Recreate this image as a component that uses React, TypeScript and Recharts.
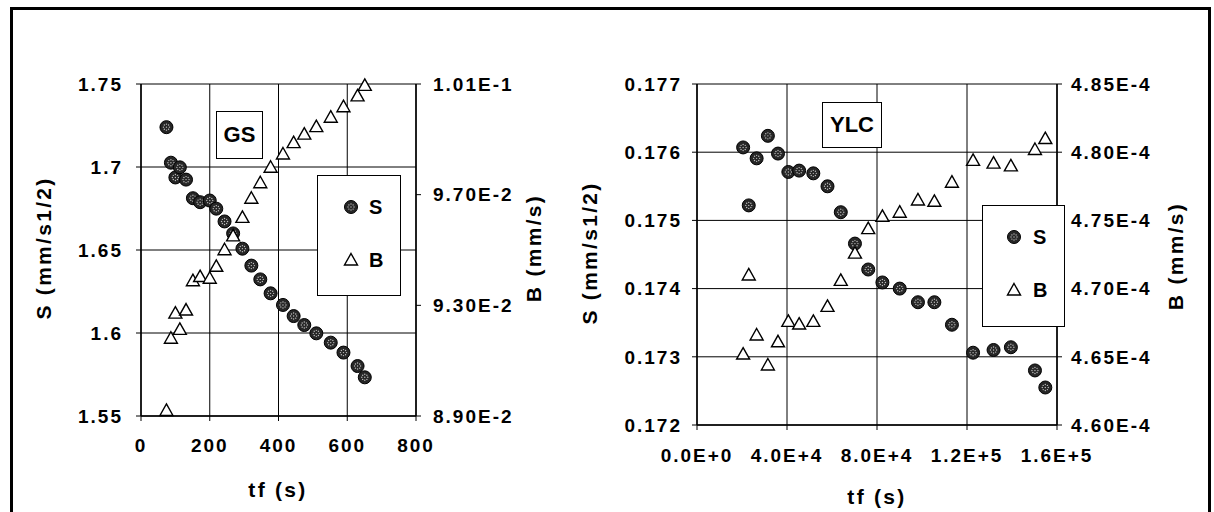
import React from 'react';
import { ScatterChart, Scatter, XAxis, YAxis, CartesianGrid, Legend } from 'recharts';

// ---------- GS panel data ----------
const gsTime = [74, 87, 100, 113, 131, 151, 172, 200, 219, 243, 268, 295, 321, 347, 377, 413, 444, 475, 510, 552, 589, 630, 651];
const gsS = [1.724, 1.7026, 1.6937, 1.6998, 1.6924, 1.6812, 1.6788, 1.6798, 1.6749, 1.6672, 1.66, 1.6508, 1.6406, 1.6323, 1.6239, 1.6169, 1.6102, 1.6048, 1.5998, 1.5942, 1.5882, 1.5801, 1.5733];
const gsB = [0.0892, 0.09181, 0.09272, 0.09213, 0.09283, 0.09389, 0.09404, 0.09398, 0.09441, 0.09501, 0.09551, 0.09618, 0.09687, 0.09743, 0.09799, 0.09847, 0.09888, 0.09919, 0.09946, 0.0998, 0.10018, 0.10057, 0.10095];
const gsXTicks = [0, 200, 400, 600, 800];
const gsSTicks = [1.55, 1.6, 1.65, 1.7, 1.75];
const gsBTicks = [0.089, 0.093, 0.097, 0.101];

// ---------- YLC panel data ----------
const ylcTime = [20500, 23000, 26500, 31500, 36000, 40600, 45400, 51700, 58000, 63900, 70200, 76100, 82400, 90100, 98200, 105500, 113300, 122700, 131800, 139500, 150200, 154800];
const ylcS = [0.17607, 0.17522, 0.17591, 0.17624, 0.17598, 0.17571, 0.17573, 0.17569, 0.1755, 0.17512, 0.17466, 0.17428, 0.17409, 0.174, 0.1738, 0.1738, 0.17347, 0.17306, 0.1731, 0.17314, 0.1728, 0.17255];
const ylcB = [4.652e-4, 4.71e-4, 4.666e-4, 4.644e-4, 4.661e-4, 4.676e-4, 4.674e-4, 4.676e-4, 4.687e-4, 4.706e-4, 4.726e-4, 4.744e-4, 4.753e-4, 4.756e-4, 4.765e-4, 4.764e-4, 4.778e-4, 4.794e-4, 4.792e-4, 4.79e-4, 4.802e-4, 4.81e-4];
const ylcXTicks = [0, 40000, 80000, 120000, 160000];
const ylcSTicks = [0.172, 0.173, 0.174, 0.175, 0.176, 0.177];
const ylcBTicks = [0.00046, 0.000465, 0.00047, 0.000475, 0.00048, 0.000485];

const seriesNames = ['S', 'B'];
const panelNames = ['GS', 'YLC'];
const xTitle = 'tf (s)';
const sTitle = 'S (mm/s1/2)';
const bTitle = 'B (mm/s)';

const gsSData = gsTime.map((x, i) => ({ x, y: gsS[i] }));
const gsBData = gsTime.map((x, i) => ({ x, y: gsB[i] }));
const ylcSData = ylcTime.map((x, i) => ({ x, y: ylcS[i] }));
const ylcBData = ylcTime.map((x, i) => ({ x, y: ylcB[i] }));

const FONT = '"Liberation Sans", Arial, Helvetica, sans-serif';
const tickStyle = { fill: '#000', fontSize: 19, fontWeight: 700, fontFamily: FONT, letterSpacing: 2 };

const expFmt = (d: number) => (v: number) => v.toExponential(d).replace('e', 'E');

function CircleMark(props: any) {
  const { cx, cy } = props;
  if (cx == null || cy == null) return null;
  const dots = [[0, 0], [-3, 0], [3, 0], [0, -3], [0, 3], [-2.1, -2.1], [2.1, 2.1], [2.1, -2.1], [-2.1, 2.1]];
  return (
    <g>
      <circle cx={cx} cy={cy} r={6.5} fill="#262626" stroke="#000" strokeWidth={1} />
      {dots.map(([dx, dy], i) => (
        <circle key={i} cx={cx + dx} cy={cy + dy} r={0.7} fill="#bdbdbd" />
      ))}
    </g>
  );
}

function TriangleMark(props: any) {
  const { cx, cy } = props;
  if (cx == null || cy == null) return null;
  return (
    <polygon
      points={`${cx},${cy - 6.5} ${cx + 6.5},${cy + 5} ${cx - 6.5},${cy + 5}`}
      fill="#fff"
      stroke="#000"
      strokeWidth={1.4}
      strokeLinejoin="miter"
    />
  );
}

const makeLegend = (w: number, h: number, mx: number, tx: number) => (props: any) => {
  const payload = [...(props.payload || [])].sort(
    (a: any, b: any) => seriesNames.indexOf(a.value) - seriesNames.indexOf(b.value)
  );
  return (
    <div style={{ width: w, height: h, border: '1.5px solid #000', background: '#fff', boxSizing: 'border-box' }}>
      <svg width={w - 3} height={h - 3} style={{ display: 'block' }}>
        {payload.map((entry: any, i: number) => {
          const cy = 31 + i * 53;
          return (
            <g key={entry.value}>
              {entry.value === 'S' ? <CircleMark cx={mx} cy={cy} /> : <TriangleMark cx={mx} cy={cy} />}
              <text x={tx} y={cy + 7} fontFamily={FONT} fontWeight={700} fontSize={20} fill="#000">
                {entry.value}
              </text>
            </g>
          );
        })}
      </svg>
    </div>
  );
};

const titleStyle: React.CSSProperties = {
  position: 'absolute',
  fontFamily: FONT,
  fontWeight: 700,
  fontSize: 21,
  letterSpacing: 2.3,
  whiteSpace: 'nowrap',
  color: '#000',
  lineHeight: '24px',
};

function Title({ text, cx, cy, rotate }: { text: string; cx: number; cy: number; rotate?: boolean }) {
  return (
    <div
      style={{
        ...titleStyle,
        left: cx,
        top: cy,
        transform: `translate(-50%, -50%)${rotate ? ' rotate(-90deg)' : ''}`,
      }}
    >
      {text}
    </div>
  );
}

function TagBox({ text, left, top, width, height }: { text: string; left: number; top: number; width: number; height: number }) {
  return (
    <div
      style={{
        position: 'absolute',
        left,
        top,
        width,
        height,
        border: '1.5px solid #000',
        boxSizing: 'border-box',
        background: '#fff',
        display: 'flex',
        alignItems: 'center',
        justifyContent: 'center',
        fontFamily: FONT,
        fontWeight: 700,
        fontSize: 22,
        color: '#000',
      }}
    >
      {text}
    </div>
  );
}

export default function App() {
  return (
    <div style={{ position: 'absolute', left: 0, top: 0, width: 1214, height: 512, overflow: 'hidden', background: '#fff' }}>
      <div
        style={{
          position: 'absolute',
          left: 10,
          top: 7,
          width: 1201,
          height: 520,
          borderTop: '3px solid #000',
          borderLeft: '3px solid #000',
          borderRight: '3px solid #000',
          boxSizing: 'border-box',
        }}
      />

      {/* GS panel */}
      <div style={{ position: 'absolute', left: 0, top: 0, width: 600, height: 512 }}>
        <ScatterChart width={600} height={512} margin={{ top: 84, right: 84, bottom: 36, left: 41 }}>
          <CartesianGrid yAxisId="s" stroke="#000" strokeWidth={1} />
          <XAxis
            dataKey="x"
            type="number"
            domain={[0, 800]}
            ticks={gsXTicks}
            interval={0}
            height={60}
            tick={tickStyle}
            tickSize={5}
            tickMargin={18}
            axisLine={{ stroke: '#000', strokeWidth: 1.5 }}
            tickLine={{ stroke: '#000' }}
          />
          <YAxis
            yAxisId="s"
            dataKey="y"
            type="number"
            domain={[1.55, 1.75]}
            ticks={gsSTicks}
            interval={0}
            width={100}
            tick={tickStyle}
            tickSize={5}
            tickMargin={13}
            tickFormatter={(v: number) => String(v)}
            axisLine={{ stroke: '#000', strokeWidth: 1.5 }}
            tickLine={{ stroke: '#000' }}
          />
          <YAxis
            yAxisId="b"
            orientation="right"
            dataKey="y"
            type="number"
            domain={[0.089, 0.101]}
            ticks={gsBTicks}
            interval={0}
            width={100}
            tick={tickStyle}
            tickSize={5}
            tickMargin={12}
            tickFormatter={expFmt(2)}
            axisLine={{ stroke: '#000', strokeWidth: 1.5 }}
            tickLine={{ stroke: '#000' }}
          />
          <Scatter name={seriesNames[0]} yAxisId="s" data={gsSData} shape={CircleMark} isAnimationActive={false} />
          <Scatter name={seriesNames[1]} yAxisId="b" data={gsBData} shape={TriangleMark} isAnimationActive={false} />
          <Legend
            layout="vertical"
            align="center"
            verticalAlign="middle"
            content={makeLegend(84, 121, 33, 51)}
            wrapperStyle={{ left: 317, top: 175, width: 84, height: 121 }}
          />
        </ScatterChart>
      </div>
      <TagBox text={panelNames[0]} left={216} top={111} width={47} height={48} />
      <Title text={sTitle} cx={44} cy={248} rotate />
      <Title text={bTitle} cx={534} cy={248} rotate />
      <Title text={xTitle} cx={278} cy={490} />

      {/* YLC panel */}
      <div style={{ position: 'absolute', left: 600, top: 0, width: 614, height: 512 }}>
        <ScatterChart width={614} height={512} margin={{ top: 84, right: 57, bottom: 27, left: 17 }}>
          <CartesianGrid yAxisId="s" stroke="#000" strokeWidth={1} />
          <XAxis
            dataKey="x"
            type="number"
            domain={[0, 160000]}
            ticks={ylcXTicks}
            interval={0}
            height={60}
            tick={tickStyle}
            tickSize={5}
            tickMargin={19}
            tickFormatter={expFmt(1)}
            axisLine={{ stroke: '#000', strokeWidth: 1.5 }}
            tickLine={{ stroke: '#000' }}
          />
          <YAxis
            yAxisId="s"
            dataKey="y"
            type="number"
            domain={[0.172, 0.177]}
            ticks={ylcSTicks}
            interval={0}
            width={80}
            tick={tickStyle}
            tickSize={5}
            tickMargin={10}
            tickFormatter={(v: number) => v.toFixed(3)}
            axisLine={{ stroke: '#000', strokeWidth: 1.5 }}
            tickLine={{ stroke: '#000' }}
          />
          <YAxis
            yAxisId="b"
            orientation="right"
            dataKey="y"
            type="number"
            domain={[0.00046, 0.000485]}
            ticks={ylcBTicks}
            interval={0}
            width={100}
            tick={tickStyle}
            tickSize={5}
            tickMargin={9}
            tickFormatter={expFmt(2)}
            axisLine={{ stroke: '#000', strokeWidth: 1.5 }}
            tickLine={{ stroke: '#000' }}
          />
          <Scatter name={seriesNames[0]} yAxisId="s" data={ylcSData} shape={CircleMark} isAnimationActive={false} />
          <Scatter name={seriesNames[1]} yAxisId="b" data={ylcBData} shape={TriangleMark} isAnimationActive={false} />
          <Legend
            layout="vertical"
            align="center"
            verticalAlign="middle"
            content={makeLegend(83, 122, 31, 50)}
            wrapperStyle={{ left: 382, top: 205, width: 83, height: 122 }}
          />
        </ScatterChart>
      </div>
      <TagBox text={panelNames[1]} left={822} top={102} width={60} height={46} />
      <Title text={sTitle} cx={590} cy={253} rotate />
      <Title text={bTitle} cx={1176} cy={256} rotate />
      <Title text={xTitle} cx={877} cy={497} />
    </div>
  );
}
